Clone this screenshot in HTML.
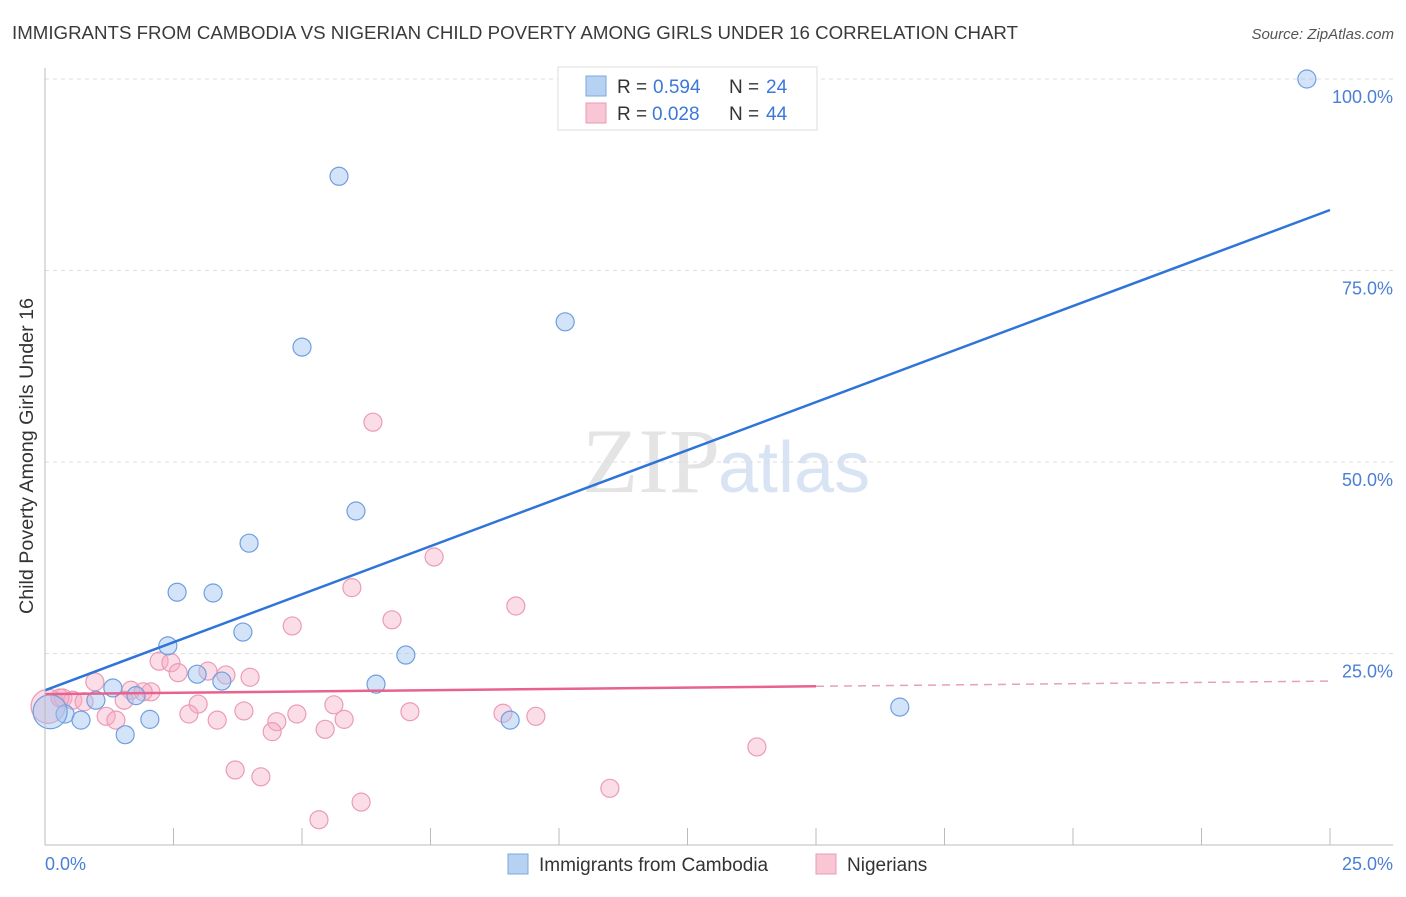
<!DOCTYPE html>
<html><head><meta charset="utf-8"><style>
body{margin:0;background:#fff;font-family:"Liberation Sans",sans-serif;}
</style></head><body>
<svg id="c" width="1406" height="892" xmlns="http://www.w3.org/2000/svg">
<text x="12" y="39" font-size="18" fill="#3a3a3a" textLength="1006" lengthAdjust="spacingAndGlyphs">IMMIGRANTS FROM CAMBODIA VS NIGERIAN CHILD POVERTY AMONG GIRLS UNDER 16 CORRELATION CHART</text>
<text x="1394" y="39" font-size="15" fill="#555" font-style="italic" text-anchor="end">Source: ZipAtlas.com</text>
<text x="720" y="492" font-size="92" fill="#e4e4e4" text-anchor="end" font-family="Liberation Serif">ZIP</text>
<text x="718" y="492" font-size="72" fill="#d8e4f4">atlas</text>
<g id="grid"></g><g id="pts"></g><g id="lines"></g>
<line x1="45" y1="68" x2="45" y2="845" stroke="#bbb"/>
<line x1="45" y1="845" x2="1393" y2="845" stroke="#bbb"/>
<text x="33" y="456" font-size="19" fill="#333" text-anchor="middle" transform="rotate(-90 33 456)" textLength="316" lengthAdjust="spacingAndGlyphs">Child Poverty Among Girls Under 16</text>
<text x="45" y="870" font-size="18" fill="#4a7fd4">0.0%</text>
<text x="1393" y="870" font-size="18" fill="#4a7fd4" text-anchor="end">25.0%</text>
<g>
<rect x="558" y="67" width="259" height="63" fill="#fff" stroke="#ddd"/>
<rect x="586" y="76" width="20" height="20" fill="#b7d1f3" stroke="#7ea7e0"/>
<rect x="586" y="103" width="20" height="20" fill="#f9c6d6" stroke="#ea9bb6"/>
<text x="617" y="93" font-size="19" fill="#333">R =</text><text x="653" y="93" font-size="19" fill="#3b78d8">0.594</text>
<text x="729" y="93" font-size="19" fill="#333">N =</text><text x="766" y="93" font-size="19" fill="#3b78d8">24</text>
<text x="617" y="120" font-size="19" fill="#333">R =</text><text x="652" y="120" font-size="19" fill="#3b78d8">0.028</text>
<text x="729" y="120" font-size="19" fill="#333">N =</text><text x="766" y="120" font-size="19" fill="#3b78d8">44</text>
</g>
<g>
<rect x="508" y="854" width="20" height="20" fill="#b7d1f3" stroke="#7ea7e0"/>
<text x="539" y="871" font-size="19" fill="#333">Immigrants from Cambodia</text>
<rect x="816" y="854" width="20" height="20" fill="#f9c6d6" stroke="#ea9bb6"/>
<text x="847" y="871" font-size="19" fill="#333">Nigerians</text>
</g>
</svg>
<script>
const yTicks=[25,50,75,100];
const yTickLabels=["25.0%","50.0%","75.0%","100.0%"];
const blueX=[24.55,5.72,5.00,10.12,6.05,3.97,2.57,3.27,3.85,2.39,7.02,6.44,2.96,3.44,1.32,1.77,0.99,0.39,0.70,2.04,1.56,9.05,16.63,0.10];
const blueY=[100,87.3,65.0,68.3,43.6,39.4,33.0,32.9,27.8,26.0,24.8,21.0,22.3,21.4,20.5,19.5,18.9,17.1,16.3,16.4,14.4,16.3,18.0,17.4];
const pinkX=[6.38,7.57,5.97,9.16,6.75,4.81,2.22,2.45,3.17,2.59,3.52,3.99,0.97,1.67,2.06,1.91,0.35,0.54,0.76,1.54,2.98,5.62,3.87,4.90,7.10,8.91,9.55,2.80,1.19,3.35,1.38,5.82,4.51,4.42,5.45,13.85,3.70,4.20,10.99,6.15,5.33,0.06,0.29];
const pinkY=[55.2,37.6,33.6,31.2,29.4,28.6,24.0,23.8,22.7,22.5,22.2,21.9,21.3,20.2,20.0,20.0,19.2,18.9,18.7,18.9,18.4,18.3,17.5,17.1,17.4,17.2,16.8,17.1,16.8,16.3,16.3,16.4,16.1,14.8,15.1,12.8,9.8,8.9,7.4,5.6,3.3,18.1,19.2];
const blueTrend=[20.2,82.9];
const pinkTrend=[19.7,21.4];
const pinkSolidEnd=15.0;
const X=v=>45+v/25*1285, Y=v=>845-v*7.66;
const NS="http://www.w3.org/2000/svg";
function mk(p,t,a){const e=document.createElementNS(NS,t);for(const k in a)e.setAttribute(k,a[k]);p.appendChild(e);return e;}
const grid=document.getElementById('grid'),pts=document.getElementById('pts'),lines=document.getElementById('lines');
yTicks.forEach((t,i)=>{
 const l=mk(grid,'line',{x1:45,x2:1393,y1:Y(t),y2:Y(t),stroke:'#ddd','stroke-dasharray':'4,4'});
 
 
 const tx=mk(grid,'text',{x:1393,y:Y(t)+24,'font-size':18,fill:'#4a7fd4','text-anchor':'end'});
 tx.textContent=yTickLabels[i];
 
 
});
for(let k=1;k<=10;k++){const l=mk(grid,'line',{x1:45+k*128.5,x2:45+k*128.5,y1:828,y2:845,stroke:'#bbb'});
 
 }
pinkX.forEach((x,i)=>{const r=(i==41)?17:9;
 const c=mk(pts,'circle',{cx:X(x),cy:Y(pinkY[i]),r:r,fill:'rgba(246,170,195,0.4)',stroke:'#eb9bb7','stroke-width':1.2});
 
 });
blueX.forEach((x,i)=>{const r=(i==23)?17:9;
 const c=mk(pts,'circle',{cx:X(x),cy:Y(blueY[i]),r:r,fill:'rgba(160,195,240,0.45)',stroke:'#6f9fe0','stroke-width':1.2});
 
 });
const bl=mk(lines,'line',{x1:X(0),y1:Y(blueTrend[0]),x2:X(25),y2:Y(blueTrend[1]),stroke:'#2f74d8','stroke-width':2.5});


const pe=pinkTrend[0]+(pinkTrend[1]-pinkTrend[0])*pinkSolidEnd/25;
const pl=mk(lines,'line',{x1:X(0),y1:Y(pinkTrend[0]),x2:X(pinkSolidEnd),y2:Y(pe),stroke:'#e8628f','stroke-width':2.5});


const pd=mk(lines,'line',{x1:X(pinkSolidEnd),y1:Y(pe),x2:X(25),y2:Y(pinkTrend[1]),stroke:'#e8a0b8','stroke-width':1.5,'stroke-dasharray':'8,6'});


</script>
</body></html>
